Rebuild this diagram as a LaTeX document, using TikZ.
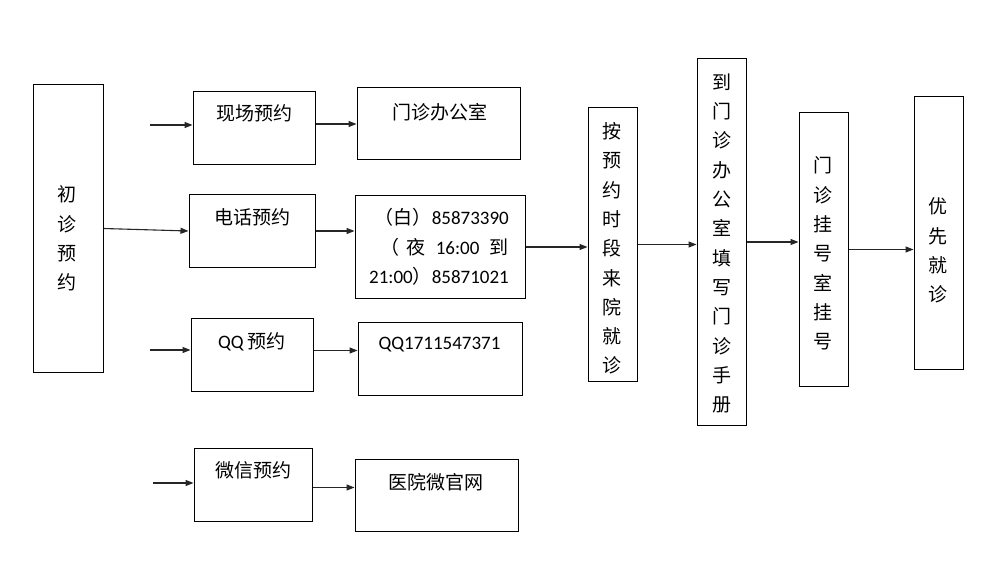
\documentclass[tikz,border=0pt]{standalone}
\usepackage{fontspec}
\setmainfont{Carlito}
\newfontfamily\cjk{Noto Sans CJK SC}
\usetikzlibrary{arrows.meta}
\begin{document}
\begin{tikzpicture}[x=1pt,y=-1pt,
  box/.style={draw,line width=1pt,inner sep=0pt},
  txt/.style={inner sep=0pt,font=\fontsize{19}{22}\selectfont},
  vtxt/.style={inner sep=0pt,align=center,font=\cjk\fontsize{19}{29.3}\selectfont},
  arr/.style={draw=black!85,line width=1.1pt,-{Triangle[length=8pt,width=6pt]}}]
\useasboundingbox (0,0) rectangle (1008,569);
\fill[white] (0,0) rectangle (1008,569);
% boxes
\node[box,minimum width=70,minimum height=287] (A) at (68,228.5) {};
\node[box,minimum width=122,minimum height=73] (B1) at (254,128.5) {};
\node[box,minimum width=163,minimum height=72] (C1) at (438.5,124) {};
\node[box,minimum width=126,minimum height=72] (B2) at (252,231) {};
\node[box,minimum width=170,minimum height=102] (C2) at (440,247) {};
\node[box,minimum width=122,minimum height=73] (B3) at (252,354.5) {};
\node[box,minimum width=164,minimum height=73] (C3) at (440,358.5) {};
\node[box,minimum width=118,minimum height=73] (B4) at (253,484.5) {};
\node[box,minimum width=163,minimum height=72] (C4) at (436.5,495) {};
\node[box,minimum width=49,minimum height=273] (D) at (612.5,244.5) {};
\node[box,minimum width=49,minimum height=366] (E) at (721.5,242) {};
\node[box,minimum width=49,minimum height=273] (F) at (823.5,249.5) {};
\node[box,minimum width=49,minimum height=272] (G) at (938.5,233) {};
% texts
\node[vtxt] (tA) at (67,238.5) {初\\诊\\预\\约};
\node[txt] (tB1) at (254.5,113) {\cjk 现场预约};
\node[txt] (tC1) at (439.5,112) {\cjk 门诊办公室};
\node[txt] (tB2) at (252.5,217) {\cjk 电话预约};
\node[txt,align=right,font=\fontsize{19}{29.5}\selectfont] (tC2) at (439,247)
  {{\cjk （白）}85873390\\{\cjk （\hspace{0.35em}夜}\hspace{0.55em}16:00\hspace{0.55em}{\cjk 到}\\21:00{\cjk ）}85871021};
\node[txt] (tB3) at (252,342) {QQ {\cjk 预约}};
\node[txt] (tC3) at (439.5,345) {QQ1711547371};
\node[txt] (tB4) at (253.5,470) {\cjk 微信预约};
\node[txt] (tC4) at (435.5,482) {\cjk 医院微官网};
\node[vtxt] (tD) at (612,248.5) {按\\预\\约\\时\\段\\来\\院\\就\\诊};
\node[vtxt] (tE) at (722,243.5) {到\\门\\诊\\办\\公\\室\\填\\写\\门\\诊\\手\\册};
\node[vtxt] (tF) at (823,253.5) {门\\诊\\挂\\号\\室\\挂\\号};
\node[vtxt] (tG) at (938,250.5) {优\\先\\就\\诊};
% free starts
\coordinate (s1) at (150,125);
\coordinate (s3) at (150,350);
\coordinate (s4) at (153,483);
% arrows
\draw[arr] (s1) -- (s1 -| B1.west);
\draw[arr] (A.east) -- (B2.west);
\draw[arr] (s3) -- (s3 -| B3.west);
\draw[arr] (s4) -- (s4 -| B4.west);
\draw[arr] (B1.east |- C1.west) -- (C1.west);
\draw[arr] (B2.east) -- (B2.east -| C2.west);
\draw[arr] ([yshift=4pt]B3.east) -- ([yshift=4pt]B3.east -| C3.west);
\draw[arr] ([yshift=-3pt]B4.east) -- ([yshift=-3pt]B4.east -| C4.west);
\draw[arr] (C2.east) -- (C2.east -| D.west);
\draw[arr] (D.east) -- (D.east -| E.west);
\draw[arr] (E.east) -- (E.east -| F.west);
\draw[arr] (F.east) -- (F.east -| G.west);
\end{tikzpicture}
\end{document}
